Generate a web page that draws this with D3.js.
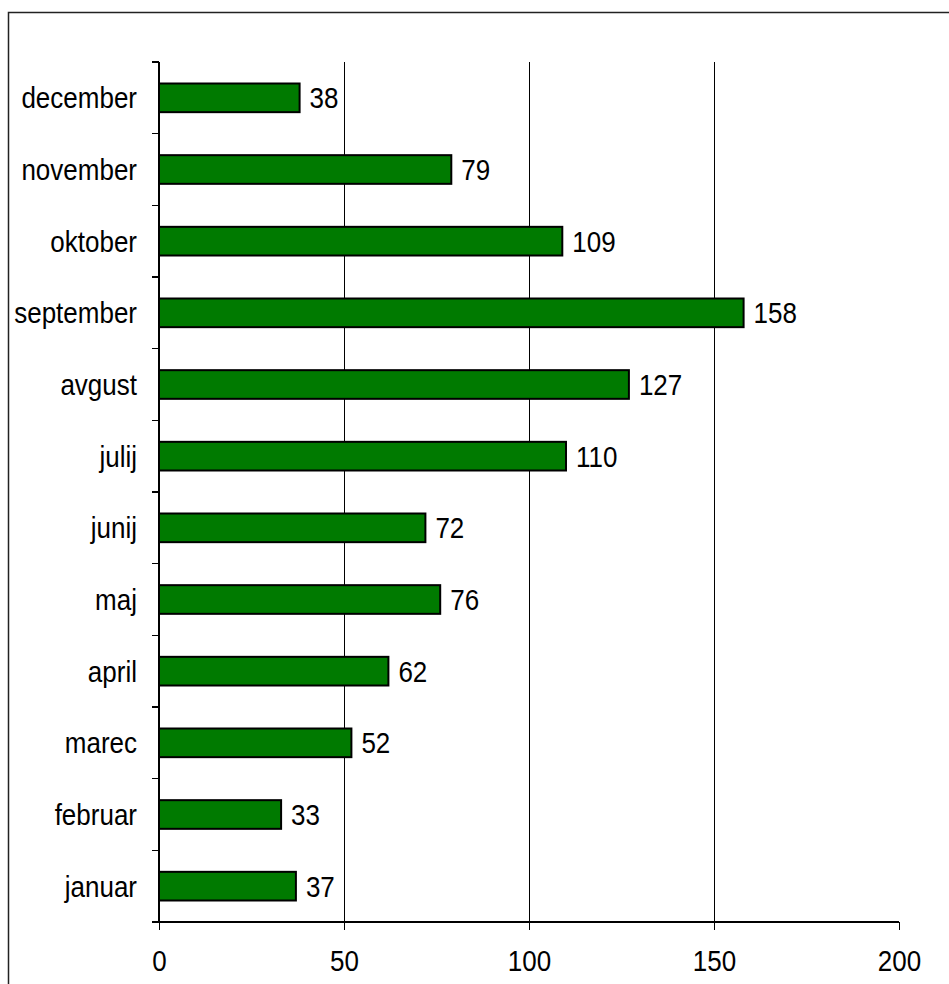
<!DOCTYPE html>
<html>
<head>
<meta charset="utf-8">
<script src="https://cdn.jsdelivr.net/npm/d3@7"></script>
<style>
  body { margin: 0; background: #fff; }
  text { font-family: "Liberation Sans", Arial, sans-serif; }
  line, path.domain { shape-rendering: crispEdges; }
</style>
</head>
<body>
<svg id="chart"></svg>
<script>
// months from top to bottom, as in the picture
const months = ["december", "november", "oktober", "september", "avgust", "julij",
                "junij", "maj", "april", "marec", "februar", "januar"];
const values = [38, 79, 109, 158, 127, 110, 72, 76, 62, 52, 33, 37];
const xTicks = [0, 50, 100, 150, 200];

const width = 949, height = 984;
const margin = { left: 159, top: 62, right: 50, bottom: 62 };
const fontSize = 26;
const stretch = 1.12; // the original font is a bit taller than Liberation Sans

const svg = d3.select("#chart")
    .attr("width", width)
    .attr("height", height);

// outer frame
svg.append("rect")
    .attr("x", 8.5).attr("y", 12.5)
    .attr("width", 960).attr("height", 1000)
    .attr("fill", "none")
    .attr("stroke", "#222")
    .attr("stroke-width", 1.5);

const x = d3.scaleLinear()
    .domain([0, 200])
    .range([margin.left, 899]);

const y = d3.scaleBand()
    .domain(months)
    .range([margin.top, 922])
    .paddingInner(0.6)
    .paddingOuter(0.3);

// grid lines
svg.append("g")
    .selectAll("line")
    .data(xTicks.filter(d => d > 0 && d < 200))
    .join("line")
        .attr("x1", d => x(d)).attr("x2", d => x(d))
        .attr("y1", margin.top).attr("y2", 922)
        .attr("stroke", "#000")
        .attr("stroke-width", 1);

// bars
svg.append("g")
    .selectAll("rect")
    .data(months)
    .join("rect")
        .attr("x", x(0))
        .attr("y", d => y(d))
        .attr("width", (d, i) => x(values[i]) - x(0))
        .attr("height", y.bandwidth())
        .attr("fill", "#007a00")
        .attr("stroke", "#000")
        .attr("stroke-width", 2);

// value labels
svg.append("g")
    .selectAll("text")
    .data(months)
    .join("text")
        .attr("transform", (d, i) =>
            `translate(${x(values[i]) + 10},${y(d) + y.bandwidth() / 2}) scale(1,${stretch})`)
        .attr("dy", "0.36em")
        .attr("font-size", fontSize)
        .attr("fill", "#000")
        .text((d, i) => values[i]);

// x axis
const xAxis = svg.append("g")
    .attr("transform", "translate(0, 922)")
    .call(d3.axisBottom(x).tickValues(xTicks).tickSize(8).tickPadding(22));
xAxis.select(".domain").attr("d", `M${x(0) - 7},0H${x(200)}`).attr("stroke-width", 1.5);
xAxis.selectAll(".tick line").attr("stroke-width", 1.2);
xAxis.selectAll("text")
    .attr("font-size", fontSize).attr("fill", "#000")
    .attr("y", null).attr("dy", null)
    .attr("transform", `translate(0,49) scale(1,${stretch})`);

// y axis: ticks at category boundaries
const yAxis = svg.append("g");
yAxis.append("line")
    .attr("x1", x(0)).attr("x2", x(0))
    .attr("y1", margin.top).attr("y2", 922)
    .attr("stroke", "#000").attr("stroke-width", 1.5);
const step = y.step();
yAxis.selectAll("line.tick")
    .data(d3.range(months.length))
    .join("line")
        .attr("class", "tick")
        .attr("x1", x(0) - 7).attr("x2", x(0))
        .attr("y1", i => margin.top + i * step)
        .attr("y2", i => margin.top + i * step)
        .attr("stroke", "#000").attr("stroke-width", 1.2);
yAxis.selectAll("text")
    .data(months)
    .join("text")
        .attr("transform", d => `translate(137,${y(d) + y.bandwidth() / 2}) scale(1,${stretch})`)
        .attr("dy", "0.36em")
        .attr("text-anchor", "end")
        .attr("font-size", fontSize)
        .attr("fill", "#000")
        .text(d => d);
</script>
</body>
</html>
